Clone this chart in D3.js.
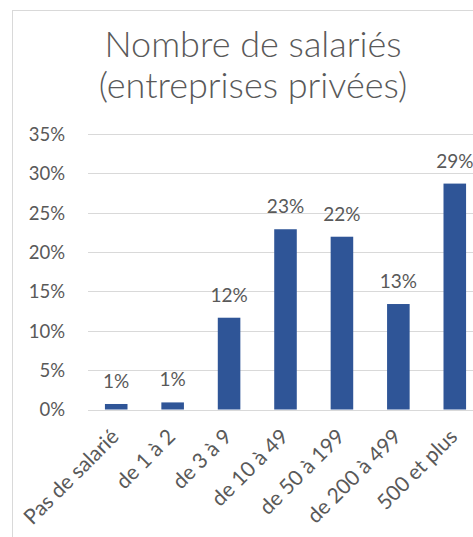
<!DOCTYPE html>
<html>
<head>
<meta charset="utf-8">
<script src="https://cdn.jsdelivr.net/npm/d3@7"></script>
<style>
  html, body { margin: 0; padding: 0; background: #fff; }
  svg { display: block; }
  text { font-family: Lato, "Open Sans", sans-serif; fill: #595959; }
</style>
</head>
<body>
<svg id="chart" width="473" height="537"></svg>
<script>
// Share of employees by company size (private sector)
const categories = ["Pas de salarié", "de 1 à 2", "de 3 à 9", "de 10 à 49", "de 50 à 199", "de 200 à 499", "500 et plus"];
const shares = [0.007, 0.009, 0.1166, 0.229, 0.2195, 0.134, 0.287];
const yTicks = [0, 0.05, 0.10, 0.15, 0.20, 0.25, 0.30, 0.35];
const titleLines = ["Nombre de salariés", "(entreprises privées)"];

const svg = d3.select("#chart");
const W = 473, H = 537;

// chart area frame
svg.append("rect")
  .attr("x", 12.5).attr("y", 10.5)
  .attr("width", W).attr("height", H)
  .attr("fill", "#fff").attr("stroke", "#d9d9d9").attr("stroke-width", 1);

// title
svg.append("g").selectAll("text").data(titleLines).join("text")
  .attr("x", 253).attr("y", (d, i) => 57 + i * 41)
  .attr("text-anchor", "middle")
  .attr("font-size", 36)
  .attr("font-weight", 300)
  .text(d => d);

const x = d3.scaleBand().domain(categories).range([88, 483]).paddingInner(0.6).paddingOuter(0.3);
const y = d3.scaleLinear().domain([0, 0.35]).range([409.5, 134]);
const pct = d3.format(".0%");

// gridlines
svg.append("g").selectAll("line").data(yTicks.filter(t => t > 0)).join("line")
  .attr("x1", 88).attr("x2", 483)
  .attr("y1", d => Math.round(y(d)) + 0.5).attr("y2", d => Math.round(y(d)) + 0.5)
  .attr("stroke", "#d9d9d9").attr("stroke-width", 1);

// y axis labels
const yAxis = d3.axisLeft(y).tickValues(yTicks).tickFormat(pct).tickSize(0).tickPadding(0);
const gy = svg.append("g").attr("transform", "translate(65,0)").call(yAxis);
gy.select(".domain").remove();
gy.selectAll("text").attr("font-size", 18.5).attr("fill", "#595959")
  .attr("font-family", "Lato, sans-serif").attr("dy", "0.35em");

// bars
svg.append("g").selectAll("rect").data(shares).join("rect")
  .attr("x", (d, i) => x(categories[i]))
  .attr("width", x.bandwidth())
  .attr("y", d => y(d))
  .attr("height", d => y(0) - y(d))
  .attr("fill", "#2f5597");

// baseline axis
const xAxis = d3.axisBottom(x).tickSize(0).tickFormat("");
const gx = svg.append("g").attr("transform", `translate(0,${Math.round(y(0)) + 0.5})`).call(xAxis);
gx.select(".domain").attr("stroke", "#d9d9d9").attr("d", "M88,0H483");

// category labels, rotated
svg.append("g").selectAll("text").data(categories).join("text")
  .attr("transform", d => `translate(${x(d) + x.bandwidth() / 2 + 4},438) rotate(-45)`)
  .attr("text-anchor", "end")
  .attr("font-size", 21)
  .text(d => d);

// value labels
svg.append("g").selectAll("text").data(shares).join("text")
  .attr("x", (d, i) => x(categories[i]) + x.bandwidth() / 2)
  .attr("y", d => y(d) - 16)
  .attr("text-anchor", "middle")
  .attr("font-size", 19)
  .text(d => pct(d));
</script>
</body>
</html>
